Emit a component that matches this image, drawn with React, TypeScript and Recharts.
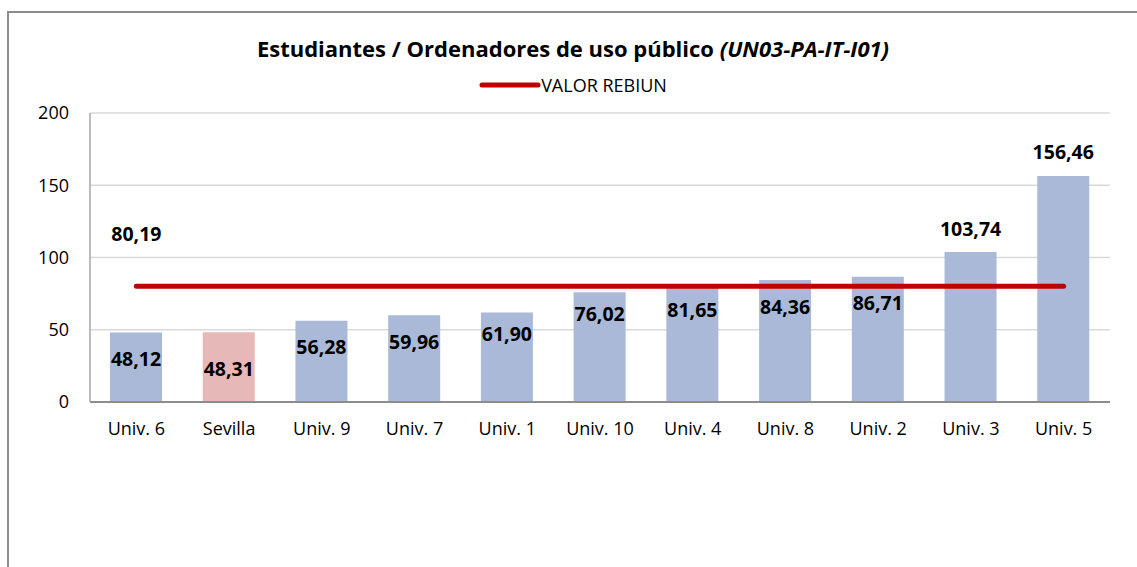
import React from 'react';
import { ComposedChart, Bar, Line, XAxis, YAxis, CartesianGrid, Legend, Cell } from 'recharts';

const categories = ['Univ. 6', 'Sevilla', 'Univ. 9', 'Univ. 7', 'Univ. 1', 'Univ. 10', 'Univ. 4', 'Univ. 8', 'Univ. 2', 'Univ. 3', 'Univ. 5'];
const values = [48.12, 48.31, 56.28, 59.96, 61.9, 76.02, 81.65, 84.36, 86.71, 103.74, 156.46];
const rebiunValue = 80.19;
const yTicks = [0, 50, 100, 150, 200];
const highlight = 'Sevilla';

const labelDy = [26, 36, 26, 26, 21, 21, 25, 26, 26, -24, -24];

const FONT = "'Open Sans', 'DejaVu Sans', sans-serif";
const BLUE = '#A9B9D7';
const PINK = '#E6B8B7';
const RED = '#C00000';

const data = categories.map((c, i) => ({ name: c, value: values[i], rebiun: rebiunValue }));

const fmt = (v: number) => v.toFixed(2).replace('.', ',');

const BarLabel = (props: any) => {
  const { x, y, width, value, index } = props;
  return (
    <text
      x={x + width / 2}
      y={y + labelDy[index]}
      textAnchor="middle"
      dominantBaseline="central"
      fontFamily={FONT}
      fontWeight={700}
      fontSize={19.5}
      fill="#000"
    >
      {fmt(Number(value))}
    </text>
  );
};

const LineLabel = (props: any) => {
  const { x, y, value, index } = props;
  if (index !== 0) return <g />;
  return (
    <text
      x={x}
      y={y - 53}
      textAnchor="middle"
      dominantBaseline="central"
      fontFamily={FONT}
      fontWeight={700}
      fontSize={19.5}
      fill="#000"
    >
      {fmt(Number(value))}
    </text>
  );
};

const LegendContent = () => (
  <div style={{ display: 'flex', justifyContent: 'center', alignItems: 'center', fontFamily: FONT, fontSize: 18, color: '#000', height: 26 }}>
    <svg width={62} height={8} style={{ display: 'block' }}>
      <line x1={3} y1={4} x2={59} y2={4} stroke={RED} strokeWidth={5} strokeLinecap="round" />
    </svg>
    <span>VALOR REBIUN</span>
  </div>
);

export default function App() {
  return (
    <div
      style={{
        position: 'absolute',
        left: 7,
        top: 11,
        width: 1130,
        height: 556,
        boxSizing: 'border-box',
        borderLeft: '2px solid #8c8c8c',
        borderTop: '2px solid #8c8c8c',
        background: '#fff',
      }}
    >
      <div
        style={{
          position: 'absolute',
          top: 21,
          left: 0,
          width: 1128,
          textAlign: 'center',
          fontFamily: FONT,
          fontWeight: 700,
          fontSize: 22,
          lineHeight: '28px',
          color: '#000',
          zIndex: 2,
        }}
      >
        Estudiantes / Ordenadores de uso público <i>(UN03-PA-IT-I01)</i>
      </div>
      <ComposedChart
        width={1128}
        height={554}
        data={data}
        margin={{ top: 100, right: 27, bottom: 125, left: 31 }}
      >
        <CartesianGrid vertical={false} stroke="#d9d9d9" strokeWidth={1.5} />
        <XAxis
          dataKey="name"
          height={40}
          tickSize={0}
          tickMargin={20}
          axisLine={{ stroke: '#8c8c8c', strokeWidth: 2 }}
          tick={{ fontFamily: FONT, fontSize: 18, fill: '#000' }}
          interval={0}
        />
        <YAxis
          width={50}
          domain={[0, 200]}
          ticks={yTicks}
          tickSize={0}
          tickMargin={21}
          axisLine={{ stroke: '#a6a6a6', strokeWidth: 1.5 }}
          tick={{ fontFamily: FONT, fontSize: 18, fill: '#000' }}
        />
        <Legend
          verticalAlign="middle"
          layout="horizontal"
          align="center"
          wrapperStyle={{ top: 59, left: 0, width: 1128 }}
          content={<LegendContent />}
        />
        <Bar dataKey="value" barSize={52} isAnimationActive={false} label={<BarLabel />} legendType="none">
          {data.map((d) => (
            <Cell key={d.name} fill={d.name === highlight ? PINK : BLUE} />
          ))}
        </Bar>
        <Line
          dataKey="rebiun"
          type="linear"
          stroke={RED}
          strokeWidth={5}
          strokeLinecap="round"
          dot={false}
          activeDot={false}
          isAnimationActive={false}
          label={<LineLabel />}
        />
      </ComposedChart>
    </div>
  );
}
